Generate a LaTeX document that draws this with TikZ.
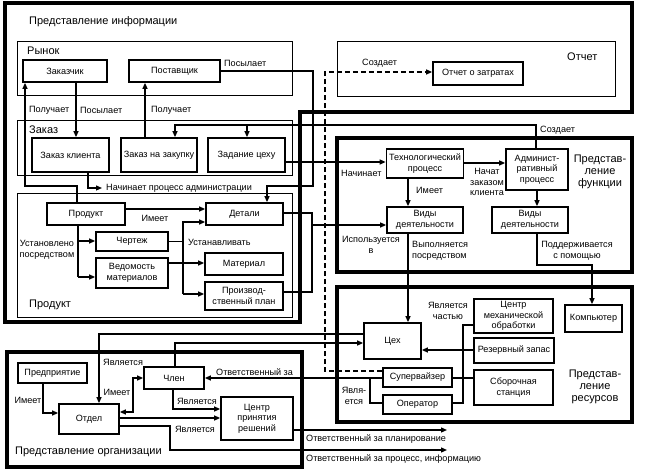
\documentclass[tikz,border=0pt]{standalone}
\usepackage{fontspec}
\setmainfont{Liberation Sans}
\usetikzlibrary{arrows.meta}
\begin{document}
\begin{tikzpicture}[x=1pt,y=-1pt,
  box/.style={draw,fill=white,line width=1.7pt,inner sep=0pt,align=center,font=\fontsize{9.1}{10.5}\selectfont},
  thinframe/.style={draw,line width=0.9pt},
  bigframe/.style={draw,line width=3.6pt},
  conn/.style={line width=1.2pt},
  arr/.style={conn,-{Triangle[length=6pt,width=5pt]}},
  dashline/.style={dash pattern=on 5pt off 3pt},
  lbl/.style={font=\fontsize{9.1}{10.5}\selectfont,inner sep=0pt,align=center},
  ttl/.style={font=\fontsize{11}{12}\selectfont,inner sep=0pt,align=center}]
\fill[white] (0,0) rectangle (646,476);
\useasboundingbox (0,0) rectangle (646,476);
% frames
\draw[bigframe] (5,3) -- (632,3) -- (632,112) -- (300,112) -- (300,322) -- (5,322) -- cycle;
\draw[bigframe] (337,138) rectangle (632,272);
\draw[bigframe] (337,287) rectangle (632,422);
\draw[bigframe] (7,352) rectangle (302,467);
\draw[thinframe] (17,41) rectangle (292,95);
\draw[thinframe] (17,120) rectangle (292,175);
\draw[thinframe] (17,193) rectangle (292,317);
\draw[thinframe] (337,41) rectangle (615,96);
% titles
\node[ttl,anchor=west] (t-info) at (29,22) {Представление информации};
\node[ttl,anchor=west] (t-rynok) at (27,51) {Рынок};
\node[ttl,anchor=west] (t-zakaz) at (29,130) {Заказ};
\node[ttl,anchor=west] (t-prod) at (29,305) {Продукт};
\node[ttl,anchor=west] (t-otch) at (567,57) {Отчет};
\node[ttl] (t-funk) at (600,172) {Представ-\\ление\\функции};
\node[ttl] (t-res) at (595,387) {Представ-\\ление\\ресурсов};
\node[ttl,anchor=west] (t-org) at (15,452) {Представление организации};
% boxes
\node[box,minimum width=84,minimum height=22] (zakazchik) at (65,71) {Заказчик};
\node[box,minimum width=91,minimum height=22] (postav) at (174.5,71) {Поставщик};
\node[box,minimum width=77,minimum height=34] (zakkl) at (70.5,155) {Заказ клиента};
\node[box,minimum width=76,minimum height=34] (zakup) at (159,155) {Заказ на закупку};
\node[box,minimum width=77,minimum height=34] (zadan) at (246.5,155) {Задание цеху};
\node[box,minimum width=78,minimum height=22] (produkt) at (86,214) {Продукт};
\node[box,minimum width=77,minimum height=22] (detali) at (244.5,214) {Детали};
\node[box,minimum width=72,minimum height=19] (chert) at (132,241.5) {Чертеж};
\node[box,minimum width=72,minimum height=30] (vedom) at (132,273) {Ведомость\\материалов};
\node[box,minimum width=78,minimum height=22] (mater) at (244,264) {Материал};
\node[box,minimum width=78,minimum height=28] (plan) at (244,296) {Производ-\\ственный план};
\node[box,minimum width=90,minimum height=23] (otchz) at (478,73.5) {Отчет о затратах};
\node[box,minimum width=77,minimum height=29] (tech) at (425,163.5) {Технологический\\процесс};
\node[box,minimum width=62,minimum height=41] (admin) at (537,169.5) {Админист-\\ративный\\процесс};
\node[box,minimum width=76,minimum height=26] (vid1) at (425,220) {Виды\\деятельности};
\node[box,minimum width=76,minimum height=26] (vid2) at (530,220) {Виды\\деятельности};
\node[box,minimum width=57,minimum height=36] (ceh) at (392.5,341) {Цех};
\node[box,minimum width=79,minimum height=34] (cmech) at (513.5,316) {Центр\\механической\\обработки};
\node[box,minimum width=80,minimum height=25] (rezerv) at (514,350.5) {Резервный запас};
\node[box,minimum width=79,minimum height=35] (sbor) at (513.5,387.5) {Сборочная\\станция};
\node[box,minimum width=57,minimum height=27] (komp) at (593.5,318.5) {Компьютер};
\node[box,minimum width=69,minimum height=19] (superv) at (417.5,377.5) {Супервайзер};
\node[box,minimum width=69,minimum height=19] (oper) at (417.5,404.5) {Оператор};
\node[box,minimum width=69,minimum height=20] (predpr) at (52.5,373) {Предприятие};
\node[box,minimum width=60,minimum height=30] (otdel) at (89,419) {Отдел};
\node[box,minimum width=60,minimum height=22] (chlen) at (174,378) {Член};
\node[box,minimum width=72,minimum height=43] (cpr) at (257,418.5) {Центр\\принятия\\решений};
% bend coordinates
\coordinate (p1) at (77,186); \coordinate (p2) at (25,186);
\coordinate (p3) at (76,110); \coordinate (p4) at (145,110);
\coordinate (p5) at (313,70); \coordinate (p6) at (313,186); \coordinate (p7) at (267,186);
\coordinate (d1) at (325,371); \coordinate (d2) at (325,72);
\coordinate (a1) at (536,125); \coordinate (a2) at (175,125); \coordinate (a3) at (247,125);
\coordinate (n1) at (88,188); \coordinate (n2) at (102,188);
\coordinate (t1) at (300,162);
\coordinate (u1) at (312,213); \coordinate (u2) at (312,225); \coordinate (u3) at (312,292);
\coordinate (h1) at (150,209);
\coordinate (s1) at (78,241); \coordinate (s2) at (78,277);
\coordinate (v1) at (183,222); \coordinate (v2) at (183,294);
\coordinate (m1) at (190,263);
\coordinate (t2) at (480,163); \coordinate (t3) at (408,190); \coordinate (t4) at (537,200);
\coordinate (k1) at (537,265); \coordinate (k2) at (592,265);
\coordinate (r1) at (463,325); \coordinate (r2) at (463,403);
\coordinate (r3) at (440,350); \coordinate (r4) at (460,378);
\coordinate (o1) at (370,378); \coordinate (o2) at (370,403);
\coordinate (e1) at (99,334); \coordinate (e2) at (175,343);
\coordinate (f1) at (43,413);
\coordinate (g1) at (133,412); \coordinate (g2) at (133,378);
\coordinate (j1) at (173,409); \coordinate (j2) at (170,418);
\coordinate (q1) at (447,430);
\coordinate (q2) at (170,426); \coordinate (q3) at (170,450); \coordinate (q4) at (447,450);
% connectors
\draw[arr] (p1 |- produkt.north) -- (p1) -- (p2) -- (p2 |- zakazchik.south);
\draw[arr] (p3 |- zakazchik.south) -- (p3 |- zakkl.north);
\draw[arr] (p4 |- zakup.north) -- (p4 |- postav.south);
\draw[arr] (postav.east) -- (postav.east -| p5) -- (p6) -- (p7) -- (p7 |- detali.north);
\draw[arr,dashline] (superv.west |- d1) -- (d1) -- (d2) -- (d2 -| otchz.west);
\draw[arr] (a1 |- admin.north) -- (a1) -- (a2) -- (a2 |- zakup.north);
\draw[arr] (a3) -- (a3 |- zadan.north);
\draw[arr] (n1 |- zakkl.south) -- (n1) -- (n2);
\draw[arr] (zadan.east |- t1) -- (tech.west |- t1);
\draw[conn] (detali.east |- u1) -- (u1) -- (u3) -- (plan.east |- u3);
\draw[arr] (u2) -- (vid1.west |- u2);
\draw[arr] (produkt.east |- h1) -- (detali.west |- h1);
\draw[conn] (s1 |- produkt.south) -- (s2);
\draw[arr] (s1) -- (chert.west |- s1);
\draw[arr] (s2) -- (vedom.west |- s2);
\draw[conn] (chert.east) -- (chert.east -| v1);
\draw[arr] (v2) -- (v1) -- (v1 -| detali.west);
\draw[arr] (v2) -- (v2 -| plan.west);
\draw[arr] (vedom.east |- m1) -- (mater.west |- m1);
\draw[arr] (tech.east |- t2) -- (admin.west |- t2);
\draw[arr] (t3 |- tech.south) -- (t3 |- vid1.north);
\draw[arr] (t4 |- admin.south) -- (t4 |- vid2.north);
\draw[arr] (t3 |- vid1.south) -- (t3 |- ceh.north);
\draw[arr] (k1 |- vid2.south) -- (k1) -- (k2) -- (k2 |- komp.north);
\draw[conn] (cmech.west |- r1) -- (r1) -- (r2) -- (oper.east |- r2);
\draw[arr] (rezerv.west |- r3) -- (ceh.east |- r3);
\draw[conn] (superv.east |- r4) -- (sbor.west |- r4);
\draw[arr] (superv.west |- o1) -- (chlen.east |- o1);
\draw[conn] (oper.west |- o2) -- (o2) -- (o1);
\draw[arr] (ceh.west |- e1) -- (e1) -- (e1 |- otdel.north);
\draw[arr] (e2 |- chlen.north) -- (e2) -- (e2 -| ceh.west);
\draw[arr] (f1 |- predpr.south) -- (f1) -- (f1 -| otdel.west);
\draw[conn,{Triangle[length=6pt,width=5pt]}-{Triangle[length=6pt,width=5pt]}] (otdel.east |- g1) -- (g1) -- (g2) -- (chlen.west |- g2);
\draw[arr] (j1 |- chlen.south) -- (j1) -- (j1 -| cpr.west);
\draw[arr] (otdel.east |- j2) -- (cpr.west |- j2);
\draw[arr] (cpr.east |- q1) -- (q1);
\draw[arr] (otdel.east |- q2) -- (q2) -- (q3) -- (q4);
% labels
\node[lbl,anchor=west] (l1) at (29,110) {Получает};
\node[lbl,anchor=west] (l2) at (80,110) {Посылает};
\node[lbl,anchor=west] (l3) at (151,110) {Получает};
\node[lbl,anchor=west] (l4) at (224,63) {Посылает};
\node[lbl,anchor=west] (l5) at (362,63) {Создает};
\node[lbl,anchor=west] (l6) at (540,130) {Создает};
\node[lbl,anchor=west] (l7) at (106,188) {Начинает процесс администрации};
\node[lbl,anchor=west] (l8) at (341,173) {Начинает};
\node[lbl] (l9) at (371,245) {Используется\\в};
\node[lbl] (l10) at (155,218) {Имеет};
\node[lbl] (l11) at (47,250) {Установлено\\посредством};
\node[lbl,anchor=west] (l12) at (188,242) {Устанавливать};
\node[lbl] (l13) at (487,182) {Начат\\заказом\\клиента};
\node[lbl,anchor=west] (l14) at (416,190) {Имеет};
\node[lbl,anchor=west,align=left] (l15) at (412,251) {Выполняется\\посредством};
\node[lbl] (l16) at (577,251) {Поддерживается\\с помощью};
\node[lbl] (l17) at (448,311) {Является\\частью};
\node[lbl] (l18) at (354,396) {Явля-\\ется};
\node[lbl,anchor=west] (l19) at (216,372) {Ответственный за};
\node[lbl,anchor=west] (l20) at (103,362) {Является};
\node[lbl] (l21) at (28,400) {Имеет};
\node[lbl] (l22) at (117,392) {Имеет};
\node[lbl] (l23) at (197,401) {Является};
\node[lbl] (l24) at (195,429) {Является};
\node[lbl,anchor=west] (l25) at (306,439) {Ответственный за планирование};
\node[lbl,anchor=west] (l26) at (306,459) {Ответственный за процесс, информацию};
\end{tikzpicture}
\end{document}
